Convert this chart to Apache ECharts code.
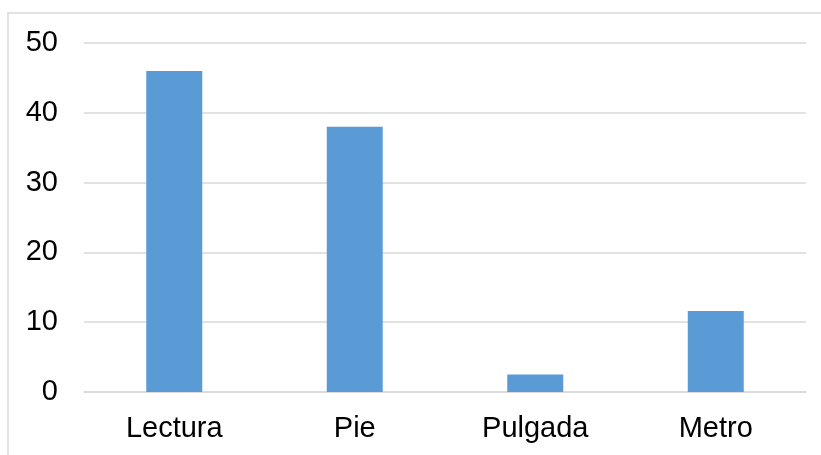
<!DOCTYPE html>
<html>
<head>
<meta charset="utf-8">
<script src="https://cdn.jsdelivr.net/npm/echarts@6/dist/echarts.min.js"></script>
<style>
  html, body { margin: 0; padding: 0; background: #fff; }
  #chart { width: 821px; height: 455px; }
</style>
</head>
<body>
<div id="chart"></div>
<script>
// Categories and their values
const categories = ['Lectura', 'Pie', 'Pulgada', 'Metro'];
const values = [46, 38, 2.5, 11.6];
const yTicks = [0, 10, 20, 30, 40, 50];

const chart = echarts.init(document.getElementById('chart'), null, { renderer: 'canvas' });

const font = '"Liberation Sans", Arial, sans-serif';

chart.setOption({
  animation: false,
  backgroundColor: '#ffffff',
  graphic: [{
    type: 'rect',
    shape: { x: 8, y: 13, width: 1000, height: 600 },
    style: { fill: 'none', stroke: '#d9d9d9', lineWidth: 1.5 },
    silent: true
  }],
  grid: { left: 84, right: 15, top: 43, bottom: 63 },
  xAxis: {
    type: 'category',
    data: categories,
    axisLine: { show: true, lineStyle: { color: '#d9d9d9', width: 1.5 } },
    axisTick: { show: false },
    axisLabel: { color: '#000', fontFamily: font, fontSize: 29, margin: 22 }
  },
  yAxis: {
    type: 'value',
    min: yTicks[0],
    max: yTicks[yTicks.length - 1],
    interval: 10,
    axisLine: { show: false },
    axisTick: { show: false },
    splitLine: { lineStyle: { color: '#d9d9d9', width: 1.5 } },
    axisLabel: { color: '#000', fontFamily: font, fontSize: 29, margin: 26 }
  },
  series: [{
    type: 'bar',
    data: values,
    barWidth: 56,
    itemStyle: { color: '#5b9bd5' }
  }]
});
</script>
</body>
</html>
